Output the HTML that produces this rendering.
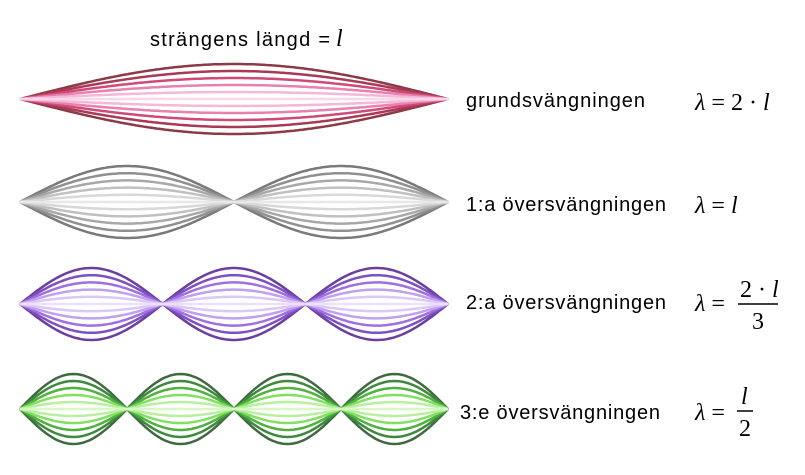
<!DOCTYPE html>
<html><head><meta charset="utf-8"><style>
body{margin:0;background:#fff;width:805px;height:475px;overflow:hidden}
svg{display:block}
.t{font-family:"Liberation Sans",sans-serif;font-size:20px;fill:#000}
.m{font-family:"Liberation Serif",serif;font-size:24px;fill:#000}
</style></head><body>
<svg id="s" width="805" height="475" xmlns="http://www.w3.org/2000/svg">
<text class="t" x="150" y="46" textLength="180" lengthAdjust="spacing">strängens längd =</text>
<text class="m" x="336" y="46" font-style="italic">l</text>
<text class="t" x="466" y="107" textLength="179" lengthAdjust="spacing">grundsvängningen</text>
<text class="t" x="466" y="211" textLength="200" lengthAdjust="spacing">1:a översvängningen</text>
<text class="t" x="466" y="309" textLength="200" lengthAdjust="spacing">2:a översvängningen</text>
<text class="t" x="460" y="419" textLength="200" lengthAdjust="spacing">3:e översvängningen</text>
<text class="m" x="695" y="110"><tspan font-style="italic">λ</tspan> = 2 · <tspan font-style="italic">l</tspan></text>
<text class="m" x="695" y="213"><tspan font-style="italic">λ</tspan> = <tspan font-style="italic">l</tspan></text>
<text class="m" x="695" y="311"><tspan font-style="italic">λ</tspan> = </text>
<text class="m" x="740" y="297">2 · <tspan font-style="italic">l</tspan></text>
<line x1="738" y1="304" x2="778" y2="304" stroke="#000" stroke-width="1.5"/>
<text class="m" x="752" y="329">3</text>
<text class="m" x="695" y="420"><tspan font-style="italic">λ</tspan> = </text>
<text class="m" x="741" y="404" font-style="italic">l</text>
<line x1="737" y1="411" x2="753" y2="411" stroke="#000" stroke-width="1.5"/>
<text class="m" x="739" y="436">2</text>
<g id="g"></g>
</svg>
<script>
var rows=[
 {cy:99,A:35,n:1,c:["#8b3a46","#a83a55","#d04a78","#e880b0","#f4b8d8","#f8d8e8"]},
 {cy:202,A:36,n:2,c:["#7a7a7a","#909090","#a8a8a8","#c0c0c0","#d8d8d8","#e8e8e8"]},
 {cy:304,A:36,n:3,c:["#6a3fa0","#8050c0","#a070e0","#c0a0f0","#dcc8f8","#ece0fc"]},
 {cy:409,A:35,n:4,c:["#3f6a3f","#3d8a3d","#50b040","#80e060","#b8f0a0","#d8f8c8"]}];
var x0=20,x1=448,out="";
rows.forEach(function(r){
 for(var k=5;k>=0;k--){
  var a=r.A*k/5;
  [1,-1].forEach(function(sg){
   if(k==0&&sg<0)return;
   var p="";
   for(var i=0;i<=200;i++){var x=x0+(x1-x0)*i/200;var y=r.cy-sg*a*Math.abs(Math.sin(Math.PI*r.n*i/200));p+=(i?"L":"M")+x.toFixed(1)+" "+y.toFixed(1);}
   out+='<path d="'+p+'" fill="none" stroke="'+r.c[5-k]+'" stroke-width="2.5"/>';
  });
 }
});
document.getElementById("g").innerHTML=out;
</script>
</body></html>
